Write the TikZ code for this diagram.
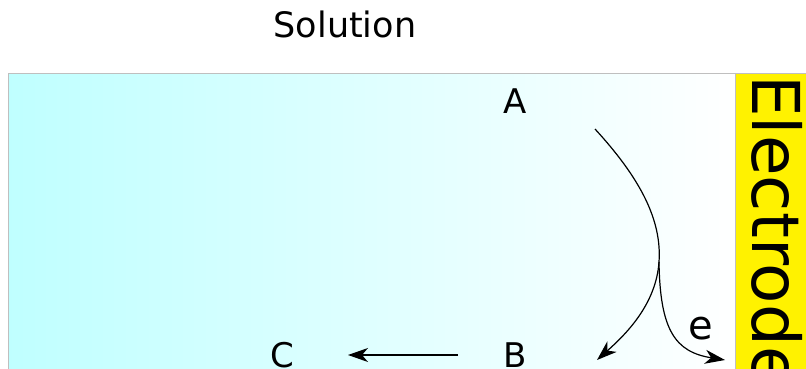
\documentclass[tikz,border=0pt]{standalone}
\usepackage{fontspec}
\setmainfont{DejaVu Sans}
\usetikzlibrary{arrows.meta}

\begin{document}
\begin{tikzpicture}[x=1pt, y=-1pt,
    labeltext/.style={font=\fontsize{34}{40}\selectfont, inner sep=0pt},
    flow/.style={line width=1.2pt, -{Stealth[length=20pt, width=14pt, inset=6pt]}}]
    \clip (0,0) rectangle (806,369);
    % solution and electrode
    \shade[left color=cyan!25, right color=white] (8.5,73.5) rectangle (735.5,380);
    \draw[color=black!25, line width=1.5pt] (8.5,380) -- (8.5,73.5) -- (735.5,73.5);
    \fill[yellow] (735.5,73.5) rectangle (806,380);
    \draw[color=black!25, line width=1pt] (735.5,380) -- (735.5,73.5) -- (806,73.5);
    \node[labeltext, font=\fontsize{35}{42}\selectfont] (solution) at (345,24) {Solution};
    \node[rotate=-90, anchor=base west, inner sep=0pt, font=\fontsize{66}{70}\selectfont] (electrode) at (752,75) {Electrode};
    \node[labeltext] (A) at (515,101) {A};
    \node[labeltext] (B) at (515,355) {B};
    \node[labeltext] (C) at (282,355) {C};
    \node[labeltext, font=\fontsize{40}{46}\selectfont] (e) at (701,329) {e};
    % reaction paths
    \coordinate (start) at (595,129);
    \coordinate (fork) at (659,262);
    \coordinate (toB) at (597,360);
    \coordinate (toE) at (725,360);
    \draw[flow] (start) .. controls (640,178) and (662,220) .. (fork)
        .. controls (656,305) and (625,335) .. (toB);
    \draw[flow] (fork) .. controls (660,330) and (675,352) .. (toE);
    \draw[flow, shorten <=57pt, shorten >=66pt] (B.center) -- (C.center);
\end{tikzpicture}
\end{document}
